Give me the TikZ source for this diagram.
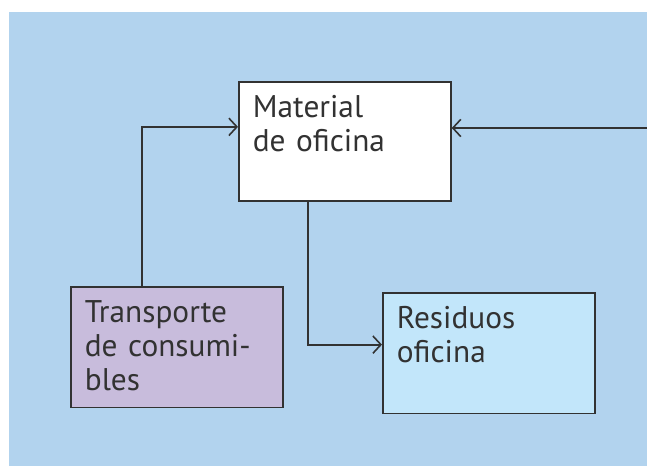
\documentclass[tikz,border=0pt]{standalone}
\usepackage{fontspec}
\setmainfont{PT Sans}
\usepackage{tikz}
\usetikzlibrary{calc}
\usetikzlibrary{positioning}
\usetikzlibrary{arrows.meta}
\definecolor{fondo}{RGB}{178,211,238}
\definecolor{lila}{RGB}{200,188,220}
\definecolor{celeste}{RGB}{194,230,250}
\definecolor{linea}{RGB}{50,50,50}
\tikzset{caja/.style={rectangle, draw=linea, line width=1.3pt, anchor=north west, align=left, inner xsep=10.5pt, inner ysep=0pt, text width=138pt, text height=27pt, text=linea, font=\fontsize{23.5}{25.2}\selectfont}}
\tikzset{flecha/.style={draw=linea, line width=1.3pt, -{Straight Barb[length=6pt,width=13pt,line width=1.2pt]}}}

\begin{document}
\begin{tikzpicture}[x=0.75pt,y=-0.75pt]
		\useasboundingbox (0,0) rectangle (647,466);
		\fill[fondo] (9,12) rectangle (647,466);
		\node[caja, fill=white, text depth=62.5pt] (M) at (238,81) {Material\\de oficina};
		\node[caja, fill=lila, text depth=63.5pt] (T) at (70,286) {Transporte\\de consumi-\\bles};
		\node[caja, fill=celeste, text depth=63.5pt] (R) at (382,292) {Residuos\\oficina};
		\coordinate (E) at (647,128);
		\path [flecha] ([xshift=54pt]T.north west) |- ([yshift=11pt]M.west);
		\path [flecha] (E) -- (M.east |- E);
		\path [flecha] ([xshift=52.5pt]M.south west) |- ([yshift=6.4pt]R.west);
	\end{tikzpicture}
\end{document}
